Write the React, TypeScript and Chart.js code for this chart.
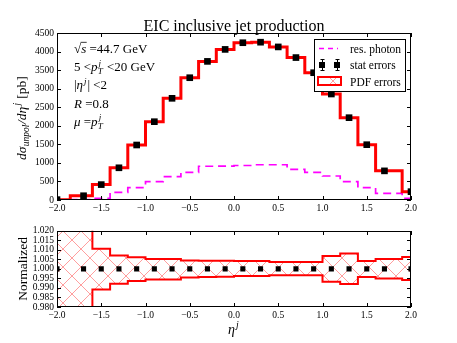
import React, { useEffect, useRef } from 'react';
import { Chart, registerables } from 'chart.js';

Chart.register(...registerables);

const FONT = '"Liberation Serif", "Times New Roman", Times, serif';

// eta^j bin edges (as drawn in the figure)
const binEdges = [-2.0, -1.85, -1.6, -1.4, -1.2, -1.0, -0.8, -0.6, -0.4, -0.2, 0.0, 0.2, 0.4, 0.6, 0.8, 1.0, 1.2, 1.4, 1.6, 1.9, 2.0];
// eta^j positions of the stat-error markers
const pointEta = [-2.0, -1.7, -1.5, -1.3, -1.1, -0.9, -0.7, -0.5, -0.3, -0.1, 0.1, 0.3, 0.5, 0.7, 0.9, 1.1, 1.3, 1.5, 1.7, 2.0];
// total cross-section per bin [pb]
const xsecTotal = [10, 115, 415, 868, 1482, 2110, 2740, 3295, 3735, 4058, 4238, 4252, 4125, 3838, 3430, 2856, 2218, 1490, 785, 225];
// resolved photon contribution per bin [pb]
const xsecPhoton = [0, 10, 45, 207, 331, 494, 630, 745, 910, 915, 930, 950, 950, 827, 746, 647, 494, 331, 180, 45];
// normalized PDF error band
const pdfUpper = [1.05, 1.05, 1.0105, 1.007, 1.0061, 1.0051, 1.0051, 1.0044, 1.0043, 1.0042, 1.0041, 1.0041, 1.0036, 1.0036, 1.0036, 1.0067, 1.008, 1.0041, 1.0052, 1.0062];
const pdfLower = [0.95, 0.95, 0.9892, 0.9922, 0.9936, 0.9944, 0.9944, 0.9955, 0.9957, 0.9959, 0.9962, 0.9962, 0.9967, 0.9967, 0.9967, 0.9933, 0.992, 0.9957, 0.9949, 0.9941];
// normalized stat points
const ratioStat = [1, 1, 1, 1, 1, 1, 1, 1, 1, 1, 1, 1, 1, 1, 1, 1, 1, 1, 1, 1];

const xMin = -2, xMax = 2, xStep = 0.5;
const yTopMin = 0, yTopMax = 4500, yTopStep = 500;
const yBotMin = 0.98, yBotMax = 1.02, yBotStep = 0.005;

const titleText = 'EIC inclusive jet production';
const legendLabels = ['res. photon', 'stat errors', 'PDF errors'];

type Seg = { t: string; it?: boolean; sub?: string; sup?: string; over?: boolean };

function fnt(size: number, it?: boolean) {
  return `${it ? 'italic ' : ''}${size}px ${FONT}`;
}
function segWidth(ctx: CanvasRenderingContext2D, s: Seg, size: number) {
  ctx.font = fnt(size, s.it);
  let w = ctx.measureText(s.t).width;
  if (s.sub || s.sup) {
    ctx.font = fnt(size * 0.7, true);
    w += Math.max(s.sub ? ctx.measureText(s.sub).width : 0, s.sup ? ctx.measureText(s.sup).width : 0) + size * 0.08;
  }
  return w;
}
function drawRich(ctx: CanvasRenderingContext2D, segs: Seg[], x: number, y: number, size: number, align: 'left' | 'center' = 'left') {
  const total = segs.reduce((a, s) => a + segWidth(ctx, s, size), 0);
  let cx = align === 'center' ? x - total / 2 : x;
  ctx.textAlign = 'left';
  ctx.textBaseline = 'alphabetic';
  for (const s of segs) {
    ctx.font = fnt(size, s.it);
    const w = ctx.measureText(s.t).width;
    ctx.fillText(s.t, cx, y);
    if (s.over) {
      ctx.save();
      ctx.lineWidth = 0.8;
      ctx.strokeStyle = '#000';
      ctx.beginPath();
      ctx.moveTo(cx - 0.5, y - size * 0.82);
      ctx.lineTo(cx + w + 0.5, y - size * 0.82);
      ctx.stroke();
      ctx.restore();
    }
    cx += w;
    if (s.sub || s.sup) {
      ctx.font = fnt(size * 0.7, true);
      let sw = 0;
      if (s.sub) {
        ctx.fillText(s.sub, cx + size * 0.02, y + size * 0.25);
        sw = Math.max(sw, ctx.measureText(s.sub).width);
      }
      if (s.sup) {
        ctx.fillText(s.sup, cx + size * 0.08, y - size * 0.42);
        sw = Math.max(sw, ctx.measureText(s.sup).width + size * 0.06);
      }
      cx += sw + size * 0.08;
    }
  }
}

function stepPoints(edges: number[], vals: number[]) {
  const pts = vals.map((v, i) => ({ x: edges[i], y: v }));
  pts.push({ x: edges[edges.length - 1], y: vals[vals.length - 1] });
  return pts;
}

function fmtX(v: number | string) {
  const n = Number(v);
  const s = Math.abs(n).toFixed(1);
  return n < -1e-9 ? '\u2212' + s : s;
}

function drawFrameTicks(chart: any) {
  const { ctx, chartArea: a, scales } = chart;
  ctx.save();
  ctx.strokeStyle = '#000';
  ctx.lineWidth = 1;
  const L = Math.round(a.left), R = Math.round(a.right), T = Math.round(a.top), B = Math.round(a.bottom);
  ctx.beginPath();
  for (const t of scales.x.ticks) {
    const px = Math.round(scales.x.getPixelForValue(t.value)) + 0.5;
    ctx.moveTo(px, B); ctx.lineTo(px, B - 4);
    ctx.moveTo(px, T); ctx.lineTo(px, T + 4);
  }
  for (const t of scales.y.ticks) {
    const py = Math.round(scales.y.getPixelForValue(t.value)) + 0.5;
    ctx.moveTo(L, py); ctx.lineTo(L + 4, py);
    ctx.moveTo(R, py); ctx.lineTo(R - 4, py);
  }
  ctx.stroke();
  ctx.strokeRect(L + 0.5, T + 0.5, R - L - 1, B - T - 1);
  ctx.restore();
}

function makeHatch(): CanvasPattern | string {
  const c = document.createElement('canvas');
  c.width = 18; c.height = 18;
  const g = c.getContext('2d');
  if (!g) return 'rgba(255,0,0,0.2)';
  g.strokeStyle = 'rgba(255,0,0,0.38)';
  g.lineWidth = 1;
  g.beginPath();
  g.moveTo(-2, -2); g.lineTo(20, 20);
  g.moveTo(20, -2); g.lineTo(-2, 20);
  g.stroke();
  return g.createPattern(c, 'repeat') || 'rgba(255,0,0,0.2)';
}

const tickFont = { family: FONT, size: 9.5 };

export default function App() {
  const topRef = useRef<HTMLCanvasElement>(null);
  const botRef = useRef<HTMLCanvasElement>(null);

  useEffect(() => {
    const hatch = makeHatch();

    const topDeco = {
      id: 'topDeco',
      afterDraw(chart: any) {
        const ctx: CanvasRenderingContext2D = chart.ctx;
        const a = chart.chartArea;
        drawFrameTicks(chart);
        ctx.save();
        ctx.fillStyle = '#000';
        // title
        ctx.font = fnt(16);
        ctx.textAlign = 'center';
        ctx.textBaseline = 'alphabetic';
        ctx.fillText(titleText, (a.left + a.right) / 2, 30.5);
        // annotations
        const rows: Seg[][] = [
          [{ t: '\u221A' }, { t: 's', it: true, over: true }, { t: ' =44.7 GeV' }],
          [{ t: '5 <' }, { t: 'p', it: true, sub: 'T', sup: 'j' }, { t: ' <20 GeV' }],
          [{ t: '|' }, { t: '\u03B7', it: true, sup: 'j' }, { t: '| <2' }],
          [{ t: 'R', it: true }, { t: ' =0.8' }],
          [{ t: '\u03BC', it: true }, { t: ' =' }, { t: 'p', it: true, sub: 'T', sup: 'j' }],
        ];
        rows.forEach((r, i) => drawRich(ctx, r, 74, 53 + i * 18.2, 13));
        // y axis title
        ctx.save();
        ctx.translate(26, (a.top + a.bottom) / 2 + 2);
        ctx.rotate(-Math.PI / 2);
        drawRich(ctx, [{ t: 'd\u03C3', it: true, sub: 'unpol' }, { t: '/d\u03B7', it: true, sup: 'j' }, { t: ' [pb]' }], 0, 0, 13.5, 'center');
        ctx.restore();
        // legend
        const bx = 314, by = 39, bw = 92, bh = 53;
        ctx.fillStyle = '#fff';
        ctx.fillRect(bx, by, bw, bh);
        ctx.strokeStyle = '#000';
        ctx.lineWidth = 1;
        ctx.strokeRect(bx + 0.5, by + 0.5, bw - 1, bh - 1);
        // res. photon handle
        ctx.strokeStyle = '#ff00ff';
        ctx.lineWidth = 1.6;
        ctx.setLineDash([5, 4]);
        ctx.beginPath();
        ctx.moveTo(319, 48.5); ctx.lineTo(338, 48.5);
        ctx.stroke();
        ctx.setLineDash([]);
        // stat errors handle
        ctx.fillStyle = '#000';
        ctx.strokeStyle = '#000';
        ctx.lineWidth = 1;
        for (const cx of [322, 337]) {
          ctx.fillRect(cx - 3, 62, 6, 6);
          ctx.beginPath();
          ctx.moveTo(cx + 0.5, 59); ctx.lineTo(cx + 0.5, 71);
          ctx.moveTo(cx - 1.5, 59.5); ctx.lineTo(cx + 2.5, 59.5);
          ctx.moveTo(cx - 1.5, 70.5); ctx.lineTo(cx + 2.5, 70.5);
          ctx.stroke();
        }
        // PDF errors handle
        ctx.fillStyle = hatch as any;
        ctx.fillRect(318, 77, 23, 8);
        ctx.strokeStyle = '#ff0000';
        ctx.lineWidth = 2;
        ctx.strokeRect(318, 77, 23, 8);
        // legend text
        ctx.fillStyle = '#000';
        ctx.font = fnt(11.5);
        ctx.textAlign = 'left';
        ctx.textBaseline = 'alphabetic';
        ctx.fillText(legendLabels[0], 350, 52.5);
        ctx.fillText(legendLabels[1], 350, 69);
        ctx.fillText(legendLabels[2], 350, 85.5);
        ctx.restore();
      },
    };

    const botDeco = {
      id: 'botDeco',
      afterDraw(chart: any) {
        const ctx: CanvasRenderingContext2D = chart.ctx;
        const a = chart.chartArea;
        drawFrameTicks(chart);
        ctx.save();
        ctx.fillStyle = '#000';
        ctx.save();
        ctx.translate(27, (a.top + a.bottom) / 2);
        ctx.rotate(-Math.PI / 2);
        drawRich(ctx, [{ t: 'Normalized' }], 0, 0, 13.5, 'center');
        ctx.restore();
        drawRich(ctx, [{ t: '\u03B7', it: true, sup: 'j' }], (a.left + a.right) / 2 - 6, 112, 14);
        ctx.restore();
      },
    };

    const xScale = (height: number) => ({
      type: 'linear' as const,
      min: xMin,
      max: xMax,
      grid: { display: false, drawTicks: false },
      border: { display: false },
      ticks: {
        stepSize: xStep,
        autoSkip: false,
        maxRotation: 0,
        padding: 3,
        color: '#000',
        font: tickFont,
        callback: (v: any) => fmtX(v),
      },
      afterFit: (s: any) => { s.height = height; },
    });

    const top = new Chart(topRef.current as HTMLCanvasElement, {
      type: 'line',
      data: {
        datasets: [
          {
            label: 'res. photon',
            data: stepPoints(binEdges, xsecPhoton),
            stepped: true,
            borderColor: '#ff00ff',
            borderWidth: 1.7,
            borderDash: [8, 5],
            pointRadius: 0,
            fill: false,
            order: 2,
          },
          {
            label: 'PDF errors',
            data: stepPoints(binEdges, xsecTotal),
            stepped: true,
            borderColor: '#ff0000',
            borderWidth: 3,
            pointRadius: 0,
            fill: false,
            order: 1,
          },
          {
            label: 'stat errors',
            data: pointEta.map((x, i) => ({ x, y: xsecTotal[i] })),
            showLine: false,
            pointStyle: 'rect',
            pointRadius: 4.7,
            pointBackgroundColor: '#000',
            pointBorderWidth: 0,
            clip: 0,
            order: 0,
          },
        ] as any,
      },
      options: {
        responsive: false,
        devicePixelRatio: 1,
        animation: false,
        events: [],
        layout: { padding: { top: 33, right: 46, left: 0, bottom: 0 } },
        plugins: { legend: { display: false }, tooltip: { enabled: false }, title: { display: false } },
        scales: {
          x: xScale(22) as any,
          y: {
            min: yTopMin,
            max: yTopMax,
            grid: { display: false, drawTicks: false },
            border: { display: false },
            ticks: { stepSize: yTopStep, autoSkip: false, padding: 3, color: '#000', font: tickFont, callback: (v: any) => String(v) },
            afterFit: (s: any) => { s.width = 57; },
          } as any,
        },
      },
      plugins: [topDeco],
    });

    const bot = new Chart(botRef.current as HTMLCanvasElement, {
      type: 'line',
      data: {
        datasets: [
          {
            label: 'PDF up',
            data: stepPoints(binEdges, pdfUpper),
            stepped: true,
            borderColor: '#ff0000',
            borderWidth: 2,
            pointRadius: 0,
            fill: '+1',
            backgroundColor: hatch as any,
            order: 2,
          },
          {
            label: 'PDF down',
            data: stepPoints(binEdges, pdfLower),
            stepped: true,
            borderColor: '#ff0000',
            borderWidth: 2,
            pointRadius: 0,
            fill: false,
            order: 2,
          },
          {
            label: 'stat',
            data: pointEta.map((x, i) => ({ x, y: ratioStat[i] })),
            showLine: false,
            pointStyle: 'rect',
            pointRadius: 3.6,
            pointBackgroundColor: '#000',
            pointBorderWidth: 0,
            clip: 0,
            order: 0,
          },
        ] as any,
      },
      options: {
        responsive: false,
        devicePixelRatio: 1,
        animation: false,
        events: [],
        layout: { padding: { top: 4, right: 46, left: 0, bottom: 0 } },
        plugins: { legend: { display: false }, tooltip: { enabled: false }, title: { display: false } },
        scales: {
          x: xScale(36) as any,
          y: {
            min: yBotMin,
            max: yBotMax,
            grid: { display: false, drawTicks: false },
            border: { display: false },
            ticks: { stepSize: yBotStep, autoSkip: false, padding: 3, color: '#000', font: tickFont, callback: (v: any) => Number(v).toFixed(3) },
            afterFit: (s: any) => { s.width = 57; },
          } as any,
        },
      },
      plugins: [botDeco],
    });

    return () => {
      top.destroy();
      bot.destroy();
    };
  }, []);

  return (
    <div style={{ position: 'fixed', left: 0, top: 0, width: 457, height: 343, background: '#fff' }}>
      <canvas ref={topRef} width={457} height={222} style={{ position: 'absolute', left: 0, top: 0, width: 457, height: 222 }} />
      <canvas ref={botRef} width={457} height={121} style={{ position: 'absolute', left: 0, top: 222, width: 457, height: 121 }} />
    </div>
  );
}
